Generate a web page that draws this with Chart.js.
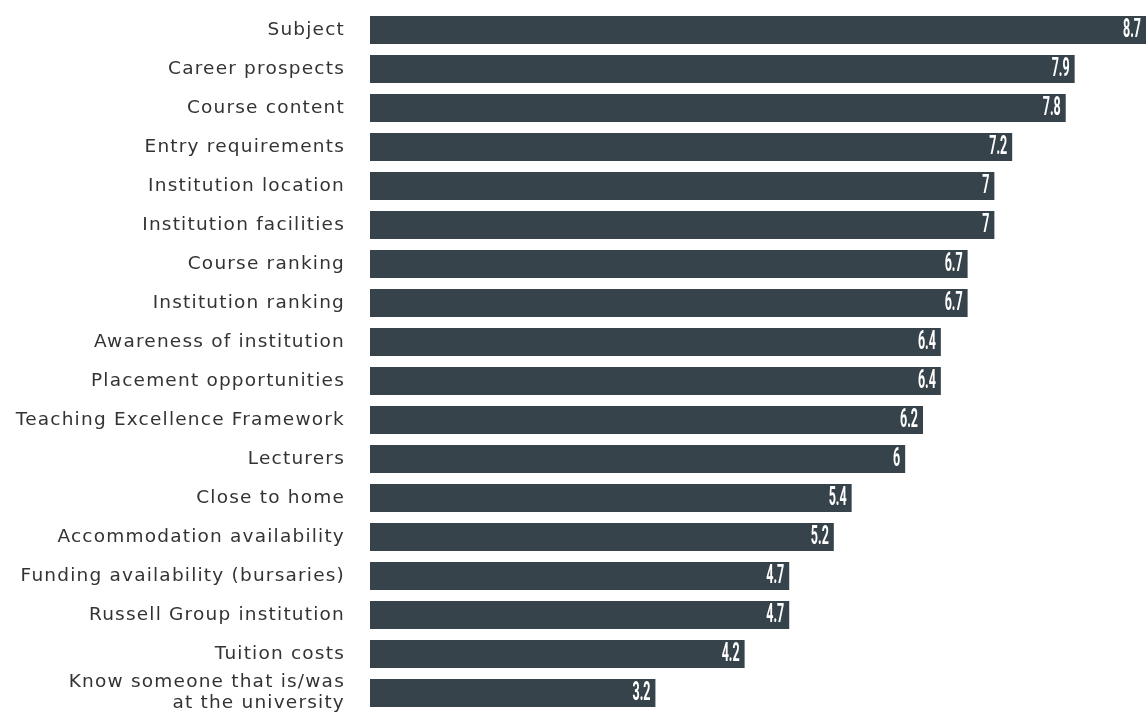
<!DOCTYPE html>
<html>
<head>
<meta charset="utf-8">
<script src="https://cdn.jsdelivr.net/npm/chart.js@4"></script>
<style>
  html, body { margin: 0; padding: 0; background: #fff; }
  #wrap { width: 1146px; height: 718px; }
</style>
</head>
<body>
<div id="wrap"><canvas id="factors"></canvas></div>
<script>
// importance factors, mean score out of 10
var categories = [
    'Subject', 'Career prospects', 'Course content', 'Entry requirements',
    'Institution location', 'Institution facilities', 'Course ranking',
    'Institution ranking', 'Awareness of institution', 'Placement opportunities',
    'Teaching Excellence Framework', 'Lecturers', 'Close to home',
    'Accommodation availability', 'Funding availability (bursaries)',
    'Russell Group institution', 'Tuition costs',
    ['Know someone that is/was', 'at the university']
];
var scores = [8.7, 7.9, 7.8, 7.2, 7, 7, 6.7, 6.7, 6.4, 6.4, 6.2, 6, 5.4, 5.2, 4.7, 4.7, 4.2, 3.2];

var barColour = '#36434b';

// wider letter spacing for the category labels
var spacing = {
    id: 'spacing',
    beforeDraw: function(chart) { chart.ctx.letterSpacing = '1.2px'; },
    beforeDatasetsDraw: function(chart) { chart.ctx.letterSpacing = '0px'; }
};

// white value label tucked in the end of each bar
var valueLabels = {
    id: 'valueLabels',
    afterDatasetsDraw: function(chart) {
        var ctx = chart.ctx;
        var meta = chart.getDatasetMeta(0);
        ctx.save();
        ctx.letterSpacing = '0px';
        ctx.fillStyle = '#ffffff';
        ctx.font = '700 25px Roboto';
        ctx.textAlign = 'right';
        ctx.textBaseline = 'middle';
        meta.data.forEach(function(bar, i) {
            ctx.save();
            ctx.translate(bar.x - 5, bar.y + 1);
            ctx.scale(0.5, 1);
            ctx.fillText(String(scores[i]), 0, 0);
            ctx.restore();
        });
        ctx.restore();
    }
};

var ctx = document.getElementById('factors').getContext('2d');
var chart = new Chart(ctx, {
    type: 'bar',
    data: {
        labels: categories,
        datasets: [{
            data: scores,
            backgroundColor: barColour,
            borderWidth: 0,
            barPercentage: 0.72,
            categoryPercentage: 1
        }]
    },
    options: {
        indexAxis: 'y',
        responsive: true,
        maintainAspectRatio: false,
        animation: false,
        layout: { padding: { top: 10.5, bottom: 5.5, left: 0, right: 0 } },
        plugins: {
            legend: { display: false },
            tooltip: { enabled: false }
        },
        scales: {
            x: {
                display: false,
                min: 0,
                max: 8.7
            },
            y: {
                grid: { display: false, drawTicks: false },
                border: { display: false },
                ticks: {
                    autoSkip: false,
                    color: '#333333',
                    padding: 25,
                    font: { family: '"DejaVu Sans"', size: 18.5, lineHeight: 1.15 }
                },
                afterFit: function(axis) {
                    axis.width = 370;
                    axis.paddingTop = 0;
                    axis.paddingBottom = 0;
                }
            }
        }
    },
    plugins: [spacing, valueLabels]
});
</script>
</body>
</html>
